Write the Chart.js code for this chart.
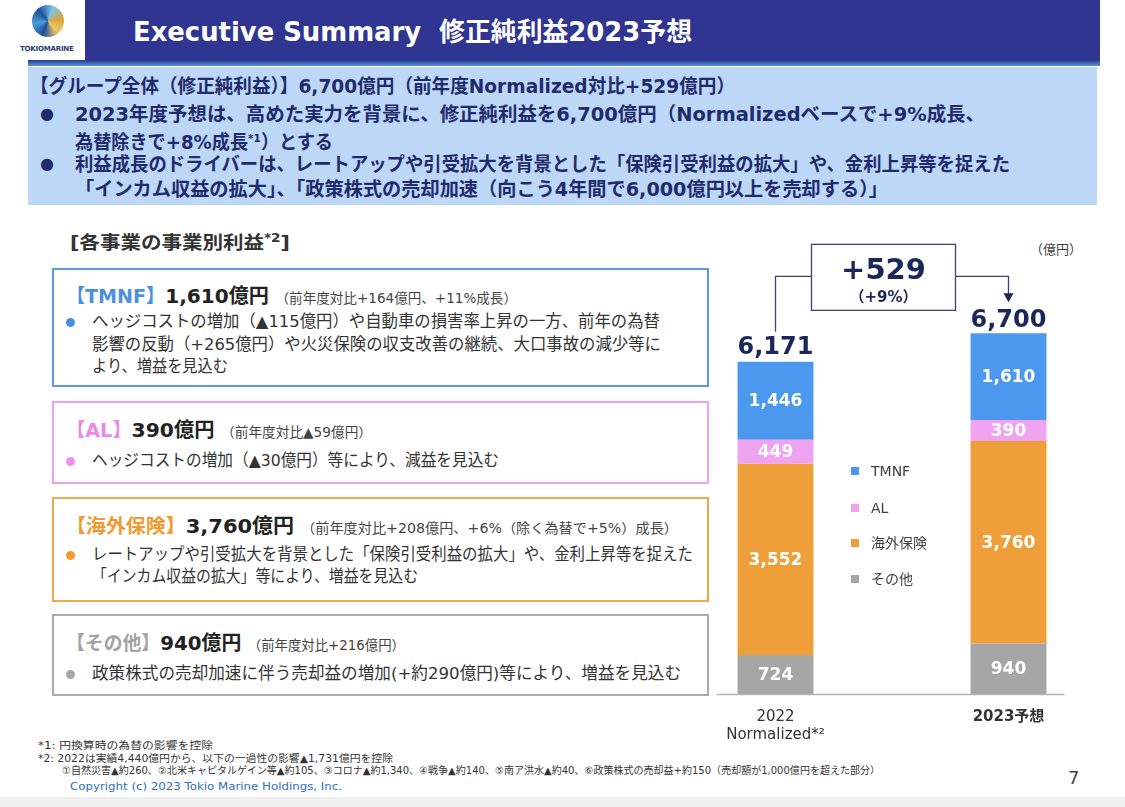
<!DOCTYPE html>
<html lang="ja">
<head>
<meta charset="utf-8">
<title>Executive Summary 修正純利益2023予想</title>
<script src="https://cdn.jsdelivr.net/npm/chart.js@4.4.1/dist/chart.umd.min.js"></script>
<style>
    body {
        margin: 0;
        width: 1125px;
        height: 807px;
        position: relative;
        overflow: hidden;
        background: #ffffff;
        font-family: "DejaVu Sans", "Noto Sans CJK JP", sans-serif;
        color: #333333;
    }
    .abs { position: absolute; white-space: nowrap; }
    .fit { transform-origin: 0 50%; }
    .header { left: 85px; top: 0; width: 1015px; height: 60px; background: #2f3591; }
    .header-stripe { left: 28px; top: 60px; width: 1072px; height: 6px; background: linear-gradient(#243b8e, #5c8fd4); }
    .title { left: 133px; top: 13px; font-size: 26px; line-height: 38px; font-weight: bold; color: #ffffff; }
    .logo-ball {
        left: 32px; top: 5px; width: 32px; height: 32px; border-radius: 50%;
        background: conic-gradient(from 200deg, #1d4f9a, #4aa0d8, #1d4f9a, #7cc3e8, #d9a441, #f0c868, #1d4f9a);
    }
    .logo-text { left: 20px; top: 45px; font-size: 7px; color: #1d3a78; font-weight: bold; letter-spacing: -0.2px; }
    .summary { left: 28px; top: 67px; width: 1069px; height: 138px; background: #bdd7f6; }
    .sum-line { font-size: 19px; line-height: 24px; font-weight: bold; color: #1f2b6c; }
    .bullet { font-size: 16px; line-height: 24px; color: #1f2b6c; }
    .section { left: 70px; top: 226px; font-size: 18px; line-height: 24px; font-weight: bold; color: #333333; }
    .box { border: 2px solid; box-sizing: border-box; background: #ffffff; }
    .box-title { font-size: 19px; line-height: 26px; font-weight: bold; }
    .box-title .amt { color: #222222; font-size: 20px; }
    .box-title .note { color: #444444; font-size: 13.5px; font-weight: normal; }
    .box-text { font-size: 16.5px; line-height: 22px; color: #333333; }
    .dot { width: 9px; height: 9px; border-radius: 50%; }
    .legend-item { font-size: 14px; line-height: 18px; color: #404040; }
    .legend-item span { display: inline-block; width: 8px; height: 8px; margin-right: 12px; vertical-align: 1px; }
    .unit { left: 1030px; top: 240px; font-size: 13px; line-height: 20px; color: #404040; }
    .foot { font-size: 10px; line-height: 13px; color: #333333; }
    .copyright { left: 70px; top: 780px; font-size: 11px; line-height: 14px; color: #3070c0; }
    .page { left: 1068px; top: 766px; font-size: 18px; line-height: 24px; color: #444444; }
    .bottom-band { left: 0; top: 797px; width: 1125px; height: 10px; background: #efefef; }
    #chartWrap { position: absolute; left: 659px; top: 230px; width: 466px; height: 520px; }
</style>
</head>
<body>
<div class="abs header"></div>
<div class="abs header-stripe"></div>
<div class="abs logo-ball"></div>
<div class="abs logo-text">TOKIOMARINE</div>
<div class="abs title fit" data-w="559">Executive Summary&nbsp;&nbsp;修正純利益2023予想</div>

<div class="abs summary"></div>
<div class="abs sum-line fit" data-w="705" style="left:30px; top:74px;">【グループ全体（修正純利益）】6,700億円（前年度Normalized対比+529億円）</div>
<div class="abs bullet" style="left:40px; top:102px;">●</div>
<div class="abs sum-line fit" data-w="910" style="left:75px; top:102px;">2023年度予想は、高めた実力を背景に、修正純利益を6,700億円（Normalizedベースで+9%成長、</div>
<div class="abs sum-line fit" data-w="258" style="left:75px; top:127px;">為替除きで+8%成長<sup style="font-size:11px;">*1</sup>）とする</div>
<div class="abs bullet" style="left:40px; top:152px;">●</div>
<div class="abs sum-line fit" data-w="935" style="left:75px; top:152px;">利益成長のドライバーは、レートアップや引受拡大を背景とした「保険引受利益の拡大」や、金利上昇等を捉えた</div>
<div class="abs sum-line fit" data-w="813" style="left:75px; top:177px;">「インカム収益の拡大」、「政策株式の売却加速（向こう4年間で6,000億円以上を売却する）」</div>

<div class="abs section fit" data-w="220">[各事業の事業別利益<sup style="font-size:12px;">*2</sup>]</div>

<div class="abs box" style="left:52px; top:268px; width:657px; height:119px; border-color:#5b9be0;"></div>
<div class="abs box-title fit" data-w="451" style="left:66px; top:283px;"><span style="color:#4a90e2;">【TMNF】</span><span class="amt">1,610億円</span> <span class="note">（前年度対比+164億円、+11%成長）</span></div>
<div class="abs dot" style="left:66px; top:318px; background:#4a90e2;"></div>
<div class="abs box-text fit" data-w="568" style="left:92px; top:311px;">ヘッジコストの増加（▲115億円）や自動車の損害率上昇の一方、前年の為替</div>
<div class="abs box-text fit" data-w="569" style="left:92px; top:334px;">影響の反動（+265億円）や火災保険の収支改善の継続、大口事故の減少等に</div>
<div class="abs box-text fit" data-w="136" style="left:92px; top:356px;">より、増益を見込む</div>

<div class="abs box" style="left:52px; top:401px; width:657px; height:83px; border-color:#eea2ee;"></div>
<div class="abs box-title fit" data-w="306" style="left:66px; top:417px;"><span style="color:#e98ae9;">【AL】</span><span class="amt">390億円</span> <span class="note">（前年度対比▲59億円）</span></div>
<div class="abs dot" style="left:66px; top:457px; background:#ee90ee;"></div>
<div class="abs box-text fit" data-w="407" style="left:92px; top:450px;">ヘッジコストの増加（▲30億円）等により、減益を見込む</div>

<div class="abs box" style="left:52px; top:497px; width:657px; height:105px; border-color:#f0a848;"></div>
<div class="abs box-title fit" data-w="612" style="left:66px; top:513px;"><span style="color:#f09a30;">【海外保険】</span><span class="amt">3,760億円</span> <span class="note">（前年度対比+208億円、+6%（除く為替で+5%）成長）</span></div>
<div class="abs dot" style="left:66px; top:551px; background:#f09a30;"></div>
<div class="abs box-text fit" data-w="601" style="left:92px; top:544px;">レートアップや引受拡大を背景とした「保険引受利益の拡大」や、金利上昇等を捉えた</div>
<div class="abs box-text fit" data-w="326" style="left:92px; top:566px;">「インカム収益の拡大」等により、増益を見込む</div>

<div class="abs box" style="left:52px; top:614px; width:657px; height:82px; border-color:#ababab;"></div>
<div class="abs box-title fit" data-w="339" style="left:66px; top:630px;"><span style="color:#a3a3a3;">【その他】</span><span class="amt">940億円</span> <span class="note">（前年度対比+216億円）</span></div>
<div class="abs dot" style="left:66px; top:670px; background:#a6a6a6;"></div>
<div class="abs box-text fit" data-w="589" style="left:92px; top:663px;">政策株式の売却加速に伴う売却益の増加(+約290億円)等により、増益を見込む</div>

<div class="abs unit">（億円）</div>
<div id="chartWrap"><canvas id="profitChart"></canvas></div>
<div class="abs" id="legend" style="left:851px; top:462px;"></div>

<div class="abs foot fit" data-w="175" style="left:38px; top:739px;">*1: 円換算時の為替の影響を控除</div>
<div class="abs foot fit" data-w="355" style="left:38px; top:752px;">*2: 2022は実績4,440億円から、以下の一過性の影響▲1,731億円を控除</div>
<div class="abs foot fit" data-w="818" style="left:62px; top:764px;">①自然災害▲約260、②北米キャピタルゲイン等▲約105、③コロナ▲約1,340、④戦争▲約140、⑤南ア洪水▲約40、⑥政策株式の売却益+約150（売却額が1,000億円を超えた部分）</div>
<div class="abs copyright fit" data-w="272">Copyright (c) 2023 Tokio Marine Holdings, Inc.</div>
<div class="abs page">7</div>
<div class="abs bottom-band"></div>

<script>
// 事業別利益 (億円): 2022 Normalized vs 2023予想
const periods = [['2022', 'Normalized*²'], '2023予想'];
const segmentNames = ['TMNF', 'AL', '海外保険', 'その他'];
const segmentColors = ['#4b98ee', '#f0a4f0', '#ef9f3a', '#a6a6a6'];
const tmnfValues = [1446, 1610];
const alValues = [449, 390];
const overseasValues = [3552, 3760];
const otherValues = [724, 940];

const FONT = '"DejaVu Sans", "Noto Sans CJK JP", sans-serif';
const NAVY = '#1c2759';

// bottom of the stack first
const seriesValues = [tmnfValues, alValues, overseasValues, otherValues];
const stackOrder = [3, 2, 1, 0];

function getTotals() {
    return periods.map((_, i) => seriesValues.reduce((sum, values) => sum + values[i], 0));
}

function formatNumber(value) {
    return value.toLocaleString('en-US');
}

// squeeze slide text lines to the widths they have on the slide
function fitTextLines() {
    document.querySelectorAll('.fit').forEach((el) => {
        const target = Number(el.dataset.w);
        const actual = el.getBoundingClientRect().width;
        if (target && actual) {
            el.style.transform = `scaleX(${target / actual})`;
        }
    });
}

function buildLegend() {
    const legend = document.getElementById('legend');
    const gaps = [0, 37, 72, 108];
    segmentNames.forEach((name, i) => {
        const item = document.createElement('div');
        item.className = 'abs legend-item';
        item.style.left = '0px';
        item.style.top = gaps[i] + 'px';
        item.innerHTML = `<span style="background:${segmentColors[i]}"></span>${name}`;
        legend.appendChild(item);
    });
}

// segment values, totals and the +529 bracket
const labelPlugin = {
    id: 'labelPlugin',
    afterDatasetsDraw(chart) {
        const ctx = chart.ctx;
        ctx.save();
        ctx.textAlign = 'center';
        ctx.textBaseline = 'middle';

        chart.data.datasets.forEach((dataset, d) => {
            const meta = chart.getDatasetMeta(d);
            meta.data.forEach((bar, i) => {
                ctx.fillStyle = '#ffffff';
                ctx.font = `bold 17px ${FONT}`;
                ctx.fillText(formatNumber(dataset.data[i]), bar.x, (bar.y + bar.base) / 2 + 1);
            });
        });

        const totals = getTotals();
        const topMeta = chart.getDatasetMeta(chart.data.datasets.length - 1);
        const left = topMeta.data[0];
        const right = topMeta.data[1];
        const zeroY = chart.scales.y.getPixelForValue(0);

        ctx.fillStyle = NAVY;
        ctx.font = `bold 24px ${FONT}`;
        ctx.fillText(formatNumber(totals[0]), left.x, left.y - 14);
        ctx.fillText(formatNumber(totals[1]), right.x, right.y - 13);

        // bracket
        const levelY = right.y - 57;
        const boxLeft = left.x + 36;
        const boxRight = left.x + 180;
        const boxTop = right.y - 89;
        const boxBottom = right.y - 23;
        ctx.strokeStyle = '#3a466f';
        ctx.lineWidth = 1.3;
        ctx.beginPath();
        ctx.moveTo(left.x, left.y - 30);
        ctx.lineTo(left.x, levelY);
        ctx.lineTo(boxLeft, levelY);
        ctx.moveTo(boxRight, levelY);
        ctx.lineTo(right.x, levelY);
        ctx.lineTo(right.x, right.y - 38);
        ctx.stroke();
        ctx.strokeRect(boxLeft, boxTop, boxRight - boxLeft, boxBottom - boxTop);

        ctx.fillStyle = NAVY;
        ctx.beginPath();
        ctx.moveTo(right.x - 5, right.y - 40);
        ctx.lineTo(right.x + 5, right.y - 40);
        ctx.lineTo(right.x, right.y - 31);
        ctx.closePath();
        ctx.fill();

        const diff = totals[1] - totals[0];
        const pct = Math.round((diff / totals[0]) * 100);
        const boxMid = (boxLeft + boxRight) / 2;
        ctx.font = `bold 29px ${FONT}`;
        ctx.fillText(`+${diff}`, boxMid, boxTop + 27);
        ctx.font = `bold 15px ${FONT}`;
        ctx.fillText(`（+${pct}%）`, boxMid, boxTop + 54);

        // baseline
        ctx.strokeStyle = '#a9b7c8';
        ctx.lineWidth = 1.3;
        ctx.beginPath();
        ctx.moveTo(left.x - 59, zeroY + 0.5);
        ctx.lineTo(right.x + 56, zeroY + 0.5);
        ctx.stroke();

        ctx.restore();
    }
};

function renderChart() {
    const datasets = stackOrder.map((s) => ({
        label: segmentNames[s],
        data: seriesValues[s],
        backgroundColor: segmentColors[s],
        borderWidth: 0,
        categoryPercentage: 1,
        barPercentage: 0.326,
    }));

    new Chart(document.getElementById('profitChart'), {
        type: 'bar',
        data: { labels: periods, datasets },
        options: {
            responsive: true,
            maintainAspectRatio: false,
            animation: false,
            layout: { padding: 0 },
            plugins: {
                legend: { display: false },
                tooltip: { enabled: false },
            },
            scales: {
                x: {
                    stacked: true,
                    grid: { display: false, drawTicks: false },
                    border: { display: false },
                    ticks: {
                        color: '#333333',
                        padding: 14,
                        maxRotation: 0,
                        autoSkip: false,
                        font: (c) => ({ family: FONT, size: 15, weight: c.index === 1 ? 'bold' : 'normal', lineHeight: 1.2 }),
                    },
                    afterFit(scale) {
                        scale.height = 56;
                    },
                },
                y: {
                    stacked: true,
                    display: false,
                    min: 0,
                    max: 8620,
                },
            },
        },
        plugins: [labelPlugin],
    });
}

fitTextLines();
buildLegend();
renderChart();
</script>
</body>
</html>
